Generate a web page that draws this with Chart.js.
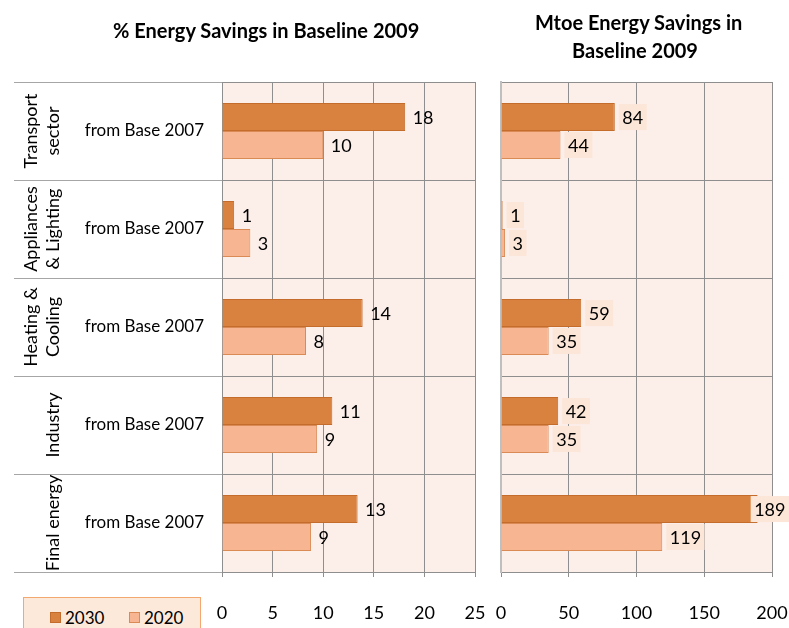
<!DOCTYPE html>
<html><head><meta charset="utf-8">
<script src="https://cdn.jsdelivr.net/npm/chart.js@4/dist/chart.umd.min.js"></script>
<style>
html,body{margin:0;padding:0;background:#fff;}
body{width:789px;height:628px;position:relative;overflow:hidden;font-family:Lato,"Open Sans",sans-serif;}
#c1{position:absolute;left:0;top:0;}
#c2{position:absolute;left:490px;top:0;}
.title{position:absolute;font-weight:bold;font-size:20px;text-align:center;color:#000;line-height:28px;white-space:nowrap;}
#t1{left:113px;width:300px;top:16px;}
#t2{left:535px;width:200px;top:8px;}
#legend{position:absolute;left:23px;top:597px;width:178px;height:40px;box-sizing:border-box;border:1px solid #F2A86E;background:#FDE9D9;}
.li{position:absolute;top:10px;font-size:17px;line-height:20px;color:#000;}
.sw{position:absolute;top:4px;left:0;width:11px;height:11px;box-sizing:border-box;border:1px solid;}
.li span.t{position:absolute;left:15px;top:0;}
</style></head>
<body>
<canvas id="c1" width="490" height="628"></canvas>
<canvas id="c2" width="299" height="628"></canvas>
<div class="title" id="t1">% Energy Savings in Baseline 2009</div>
<div class="title" id="t2">Mtoe Energy Savings in<br>Baseline 2009</div>
<div id="legend"></div>
<script>
// ---- data ----
const categories = ["Transport sector", "Appliances & Lighting", "Heating & Cooling", "Industry", "Final energy"];
const categoryLines = [["Transport", "sector"], ["Appliances", "& Lighting"], ["Heating &", "Cooling"], ["Industry"], ["Final energy"]];
const subLabel = "from Base 2007";
const seriesNames = ["2030", "2020"];
const pct2030 = [18.1, 1.2, 13.9, 10.9, 13.4];
const pct2020 = [10.0, 2.8, 8.3, 9.4, 8.8];
const mtoe2030 = [84.0, 1.2, 59.2, 42.2, 189.4];
const mtoe2020 = [43.9, 3.0, 35.2, 35.2, 119.0];
const pctTicks = [0, 5, 10, 15, 20, 25];
const mtoeTicks = [0, 50, 100, 150, 200];

// ---- styles ----
const FONT = 'Lato, "Open Sans", sans-serif';
const fills = ["#D9823F", "#F8B592"];
const borders = ["#C46C2C", "#D98A55"];
const plotBg = "#FCEEE9";
const gridColor = "#8E8E8E";

const bgPlugin = {
  id: 'plotBg',
  beforeDraw(chart) {
    const a = chart.chartArea, ctx = chart.ctx;
    ctx.save(); ctx.fillStyle = plotBg;
    ctx.fillRect(a.left, a.top, a.right - a.left, a.bottom - a.top);
    ctx.restore();
  }
};

const groupPlugin = {
  id: 'groups',
  afterDraw(chart) {
    const y = chart.scales.y, a = chart.chartArea, ctx = chart.ctx;
    const step = y.getPixelForValue(1) - y.getPixelForValue(0);
    ctx.save();
    ctx.strokeStyle = "#A6A6A6"; ctx.lineWidth = 1;
    for (let i = 0; i <= categories.length; i++) {
      const py = Math.round(y.getPixelForValue(i) - step / 2) + 0.5;
      ctx.beginPath(); ctx.moveTo(14, py); ctx.lineTo(a.left, py); ctx.stroke();
    }
    ctx.fillStyle = "#000"; ctx.font = "18px " + FONT;
    ctx.textAlign = "center"; ctx.textBaseline = "middle";
    categoryLines.forEach((lines, i) => {
      const cy = y.getPixelForValue(i);
      lines.forEach((t, j) => {
        const x = 53 - (lines.length - 1 - j) * 22;
        ctx.save(); ctx.translate(x, cy); ctx.rotate(-Math.PI / 2);
        ctx.fillText(t, 0, 0); ctx.restore();
      });
    });
    ctx.restore();
  }
};

function labelPlugin(boxed) {
  return {
    id: 'vlabels',
    afterDatasetsDraw(chart) {
      const ctx = chart.ctx;
      ctx.save();
      ctx.font = "18px " + FONT; ctx.textBaseline = "middle"; ctx.textAlign = "left";
      chart.data.datasets.forEach((ds, di) => {
        chart.getDatasetMeta(di).data.forEach((el, i) => {
          const txt = String(Math.round(ds.data[i]));
          const w = ctx.measureText(txt).width;
          let bx = el.x + 4;
          if (boxed) {
            const bw = w + 7;
            bx = Math.min(bx, chart.width - bw);
            ctx.fillStyle = "#FCE6D8";
            ctx.fillRect(bx, el.y - 13, bw, 26);
          }
          ctx.fillStyle = "#000";
          ctx.fillText(txt, bx + 3.5, el.y + 1);
        });
      });
      ctx.restore();
    }
  };
}

function makeDatasets(a, b) {
  return [a, b].map((d, k) => ({
    label: seriesNames[k], data: d,
    backgroundColor: fills[k], borderColor: borders[k], borderWidth: 1,
    categoryPercentage: 0.57, barPercentage: 1.0
  }));
}

function xScale(ticks) {
  return {
    type: 'linear', min: ticks[0], max: ticks[ticks.length - 1],
    afterBuildTicks: s => { s.ticks = ticks.map(v => ({ value: v })); },
    afterFit: s => { s.height = 56; s.paddingLeft = 0; s.paddingRight = 0; },
    grid: { color: gridColor, tickLength: 5, drawTicks: true },
    border: { color: gridColor },
    ticks: { color: "#000", font: { family: FONT, size: 18 }, padding: 25, maxRotation: 0, autoSkip: false }
  };
}

Chart.defaults.font.family = FONT;

new Chart(document.getElementById('c1'), {
  type: 'bar',
  data: { labels: categories, datasets: makeDatasets(pct2030, pct2020) },
  options: {
    indexAxis: 'y', responsive: false, animation: false,
    layout: { padding: { top: 82, right: 15, bottom: 0, left: 0 } },
    plugins: { legend: { display: false }, tooltip: { enabled: false } },
    scales: {
      x: xScale(pctTicks),
      y: {
        type: 'category',
        afterFit: s => { s.width = 222; s.paddingTop = 0; s.paddingBottom = 0; },
        grid: { color: gridColor, offset: true, tickLength: 6 },
        border: { color: gridColor },
        ticks: { color: "#000", font: { family: FONT, size: 17 }, padding: 12, callback: () => subLabel }
      }
    }
  },
  plugins: [bgPlugin, groupPlugin, labelPlugin(false)]
});

new Chart(document.getElementById('c2'), {
  type: 'bar',
  data: { labels: categories, datasets: makeDatasets(mtoe2030, mtoe2020) },
  options: {
    indexAxis: 'y', responsive: false, animation: false,
    layout: { padding: { top: 82, right: 17, bottom: 0, left: 0 } },
    plugins: { legend: { display: false }, tooltip: { enabled: false } },
    scales: {
      x: xScale(mtoeTicks),
      y: {
        type: 'category',
        afterFit: s => { s.width = 11; s.paddingTop = 0; s.paddingBottom = 0; },
        grid: { color: gridColor, offset: true, tickLength: 0, drawTicks: false },
        border: { color: "#BFBFBF", width: 2 },
        ticks: { display: false }
      }
    }
  },
  plugins: [bgPlugin, labelPlugin(true)]
});

// legend
const lg = document.getElementById('legend');
const lx = [26, 105];
seriesNames.forEach((n, k) => {
  const d = document.createElement('div');
  d.className = 'li'; d.style.left = lx[k] + 'px';
  d.innerHTML = '<div class="sw" style="background:' + fills[k] + ';border-color:' + borders[k] + '"></div><span class="t">' + n + '</span>';
  lg.appendChild(d);
});
</script>
</body></html>
